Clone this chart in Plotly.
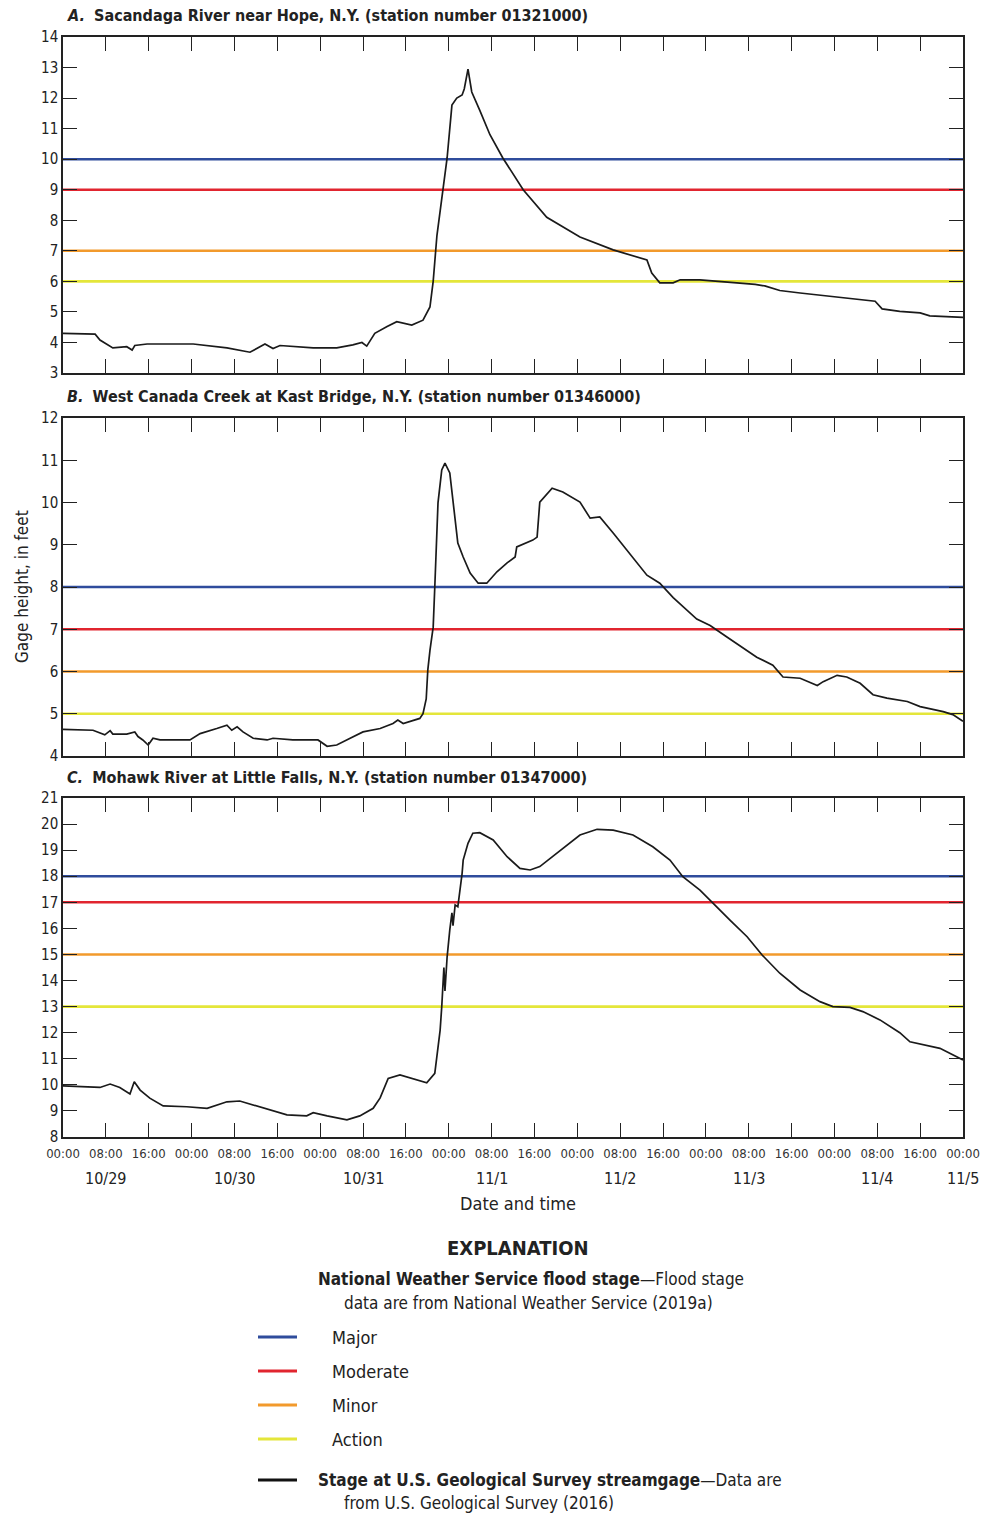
import plotly.graph_objects as go

# ---------------- data ----------------
hours_a = [0, 6.0, 6.9, 9.3, 11.9, 12.9, 13.4, 15.7, 24.3, 30.6, 34.9, 36.2, 37.7, 39.2, 40.5, 46.7, 51.1, 54.1, 55.8, 56.7,
           58.2, 60.5, 62.3, 65.1, 67.2, 68.5, 69.1, 69.8, 70.9, 71.7, 72.6, 73.5, 74.5, 74.9, 75.6, 76.3, 77.8, 79.7, 82.1, 85.9,
           90.3, 96.5, 102.7, 109.0, 109.9, 111.4, 113.9, 115.2, 118.9, 122.6, 129.2, 131.0, 133.8, 137.6, 145.0, 151.6, 152.9,
           156.2, 160.0, 161.8, 168]
stage_a = [4.3, 4.27, 4.08, 3.82, 3.86, 3.75, 3.9, 3.95, 3.95, 3.82, 3.68, 3.8, 3.95, 3.8, 3.9, 3.82, 3.82, 3.92, 4.0, 3.88,
           4.3, 4.52, 4.68, 4.57, 4.73, 5.16, 6.0, 7.5, 8.99, 10.04, 11.77, 12.0, 12.1, 12.3, 12.95, 12.2, 11.6, 10.8, 10.04, 9.0,
           8.1, 7.45, 7.03, 6.7, 6.27, 5.95, 5.95, 6.05, 6.05, 6.0, 5.9, 5.85, 5.7, 5.62, 5.48, 5.35, 5.1,
           5.02, 4.97, 4.87, 4.82]

hours_b = [0, 5.6, 7.8, 8.8, 9.3, 11.9, 13.4, 14.0, 14.9, 15.9, 16.8, 18.1, 23.7, 25.6, 28.7, 30.6, 31.5, 32.5, 33.6, 35.5,
           38.1, 39.2, 42.9, 47.6, 49.3, 51.1, 53.6, 56.0, 59.2, 61.6, 62.5, 63.5, 66.6, 67.2, 67.8, 68.1, 68.5, 69.1, 69.4, 70.0,
           70.7, 71.3, 72.2, 73.1, 73.7, 74.7, 76.0, 77.5, 79.1, 81.0, 82.9, 84.4, 84.7, 87.7, 88.5, 89.0, 91.3, 93.3, 96.5, 98.4,
           100.2, 102.7, 105.8, 109.0, 111.4, 113.9, 118.3, 120.8, 124.0, 129.5, 132.5, 134.4, 137.6, 140.8, 141.9, 144.5, 146.3,
           148.8, 151.2, 153.8, 157.6, 160.0, 164.3, 166.1, 168]
stage_b = [4.63, 4.61, 4.5, 4.6, 4.52, 4.52, 4.57, 4.46, 4.38, 4.26, 4.42, 4.38, 4.38, 4.53, 4.65, 4.73, 4.61, 4.69, 4.57, 4.42,
           4.38, 4.42, 4.38, 4.38, 4.23, 4.26, 4.42, 4.57, 4.65, 4.77, 4.85, 4.77, 4.89, 5.0, 5.35, 6.04, 6.5, 7.05, 8.0, 9.99,
           10.77, 10.93, 10.7, 9.66, 9.04, 8.71, 8.33, 8.09, 8.09, 8.36, 8.57, 8.71, 8.95, 9.11, 9.18, 10.01, 10.34, 10.25, 10.01, 9.63,
           9.66, 9.28, 8.8, 8.28, 8.09, 7.75, 7.24, 7.09, 6.81, 6.34, 6.15, 5.87, 5.84, 5.67, 5.76, 5.91, 5.87,
           5.72, 5.45, 5.37, 5.29, 5.17, 5.05, 4.98, 4.82]

hours_c = [0, 6.9, 8.8, 10.6, 12.5, 13.3, 14.4, 16.2, 18.7, 23.1, 26.9, 30.6, 33.0, 36.8, 41.8, 45.5, 46.7, 49.3, 53.0, 55.4,
           57.9, 59.2, 60.7, 62.9, 66.1, 67.9, 69.4, 70.0, 70.4, 70.7, 70.9, 71.1, 71.3, 71.7, 72.2, 72.6, 72.8, 73.2, 73.7, 74.3,
           74.5, 74.7, 75.6, 76.5, 77.8, 80.3, 82.9, 85.3, 87.2, 89.0, 92.8, 96.5, 99.7, 102.7, 106.4, 110.1, 113.3, 115.7, 118.9,
           121.3, 124.5, 127.7, 130.5, 133.8, 137.6, 141.3, 143.7, 146.9, 149.3, 152.5, 156.2, 158.1, 163.7, 168]
stage_c = [9.96, 9.9, 10.03, 9.9, 9.65, 10.12, 9.8, 9.49, 9.19, 9.16, 9.1, 9.35, 9.38, 9.16, 8.85, 8.81, 8.93, 8.81, 8.66, 8.81,
           9.1, 9.5, 10.25, 10.38, 10.19, 10.08, 10.44, 11.34, 12.1, 13.0, 13.64, 14.5, 13.6, 14.9, 15.94, 16.6, 16.1, 16.9, 16.83, 17.73,
           18.11, 18.62, 19.26, 19.65, 19.67, 19.39, 18.75, 18.30, 18.24, 18.37, 19.0, 19.58, 19.80, 19.77, 19.58, 19.13, 18.62, 17.98, 17.47,
           16.96, 16.32, 15.68, 14.98, 14.28, 13.64, 13.19, 13.0, 12.97, 12.81, 12.49, 12.0, 11.65, 11.4, 10.95]

flood_names = ["Major", "Moderate", "Minor", "Action"]
flood_colors = ["#2f4c9c", "#e1252f", "#f29a2c", "#e4e63a"]
flood_a = [10, 9, 7, 6]
flood_b = [8, 7, 6, 5]
flood_c = [18, 17, 15, 13]

titles = ["<b><i>A.</i></b>  <b>Sacandaga River near Hope, N.Y. (station number 01321000)</b>",
          "<b><i>B.</i></b>  <b>West Canada Creek at Kast Bridge, N.Y. (station number 01346000)</b>",
          "<b><i>C.</i></b>  <b>Mohawk River at Little Falls, N.Y. (station number 01347000)</b>"]
y_ranges = [(3, 14), (4, 12), (8, 21)]

tick_hours = list(range(0, 169, 8))
tick_text = ["00:00", "08:00", "16:00"] * 7 + ["00:00"]
date_hours = [8, 32, 56, 80, 104, 128, 152, 168]
date_labels = ["10/29", "10/30", "10/31", "11/1", "11/2", "11/3", "11/4", "11/5"]

# ---------------- layout helpers ----------------
W, H = 985, 1515
FONT = "Liberation Sans Narrow, DejaVu Sans Condensed, Arial Narrow, sans-serif"
def px(x):
    return x / W
def py(y):
    return 1 - y / H

panel_px = [(37, 373), (418, 756), (798, 1137)]
title_y = [16, 396, 777]
x_left, x_right = 63, 963

fig = go.Figure()
series = [(hours_a, stage_a, flood_a), (hours_b, stage_b, flood_b), (hours_c, stage_c, flood_c)]

layout = dict(width=W, height=H, margin=dict(l=0, r=0, t=0, b=0, pad=0), autosize=False,
              paper_bgcolor="white", plot_bgcolor="white", showlegend=False,
              font=dict(family=FONT, color="#222", size=15))
annotations = []
shapes = []

def note(text, x, y, size, xanchor="left", yanchor="middle", xref="paper", **kw):
    d = dict(text=text, x=x, y=y, xref=xref, yref="paper", xanchor=xanchor, yanchor=yanchor,
             showarrow=False, font=dict(size=size, family=FONT, color="#222"))
    d.update(kw)
    annotations.append(d)

for i, (hrs, stg, fl) in enumerate(series):
    n = "" if i == 0 else str(i + 1)
    xref, yref = "x" + n, "y" + n
    for lvl, col in zip(fl, flood_colors):
        fig.add_trace(go.Scatter(x=[0, 168], y=[lvl, lvl], mode="lines",
                                 line=dict(color=col, width=2.6), xaxis=xref, yaxis=yref,
                                 hoverinfo="skip"))
    fig.add_trace(go.Scatter(x=hrs, y=stg, mode="lines", line=dict(color="#1a1a1a", width=1.7),
                             xaxis=xref, yaxis=yref))
    top, bot = panel_px[i]
    layout["xaxis" + n] = dict(domain=[px(x_left), px(x_right)], range=[0, 168], anchor=yref,
                               tickmode="array", tickvals=tick_hours, ticktext=tick_text,
                               showticklabels=(i == 2), ticks="inside", ticklen=14, tickwidth=1.3,
                               tickcolor="#222", showline=True, linecolor="#222", linewidth=1.5,
                               mirror="ticks", showgrid=False, zeroline=False, automargin=False,
                               ticklabelstandoff=4,
                               tickfont=dict(size=13, family=FONT, color="#333"))
    layout["yaxis" + n] = dict(domain=[py(bot), py(top)], range=list(y_ranges[i]), anchor=xref,
                               dtick=1, ticks="inside", ticklen=14, tickwidth=1.3, tickcolor="#222",
                               showline=True, linecolor="#222", linewidth=1.5, mirror="ticks",
                               showgrid=False, zeroline=False, automargin=False,
                               tickfont=dict(size=15, family=FONT, color="#222"))
    note(titles[i], px(65), py(title_y[i]), 16)

for h, lab in zip(date_hours, date_labels):
    note(lab, h, py(1178), 16, xanchor="center", xref="x3")

note("Date and time", px(518), py(1203), 18, xanchor="center")
note("Gage height, in feet", px(22), py(587), 17, xanchor="center", textangle=-90)

# ---------------- explanation ----------------
note("<b>EXPLANATION</b>", px(518), py(1248), 20, xanchor="center")
note("<b>National Weather Service flood stage</b>—Flood stage", px(316), py(1279), 17)
note("data are from National Weather Service (2019a)", px(342), py(1303), 17)
leg_y = [1337, 1371, 1405, 1439]
for name, col, yy in zip(flood_names, flood_colors, leg_y):
    shapes.append(dict(type="line", xref="paper", yref="paper", x0=px(258), x1=px(297), y0=py(yy), y1=py(yy),
                       line=dict(color=col, width=3)))
    note(name, px(330), py(yy), 18)
shapes.append(dict(type="line", xref="paper", yref="paper", x0=px(258), x1=px(297), y0=py(1480), y1=py(1480),
                   line=dict(color="#111", width=3)))
note("<b>Stage at U.S. Geological Survey streamgage</b>—Data are", px(316), py(1480), 17)
note("from U.S. Geological Survey (2016)", px(342), py(1503), 17)

layout["annotations"] = annotations
layout["shapes"] = shapes
fig.update_layout(**layout)
fig.write_html("out.html", config={"displayModeBar": False},
               post_script="document.body.style.margin='0px';document.body.style.overflow='hidden';")
